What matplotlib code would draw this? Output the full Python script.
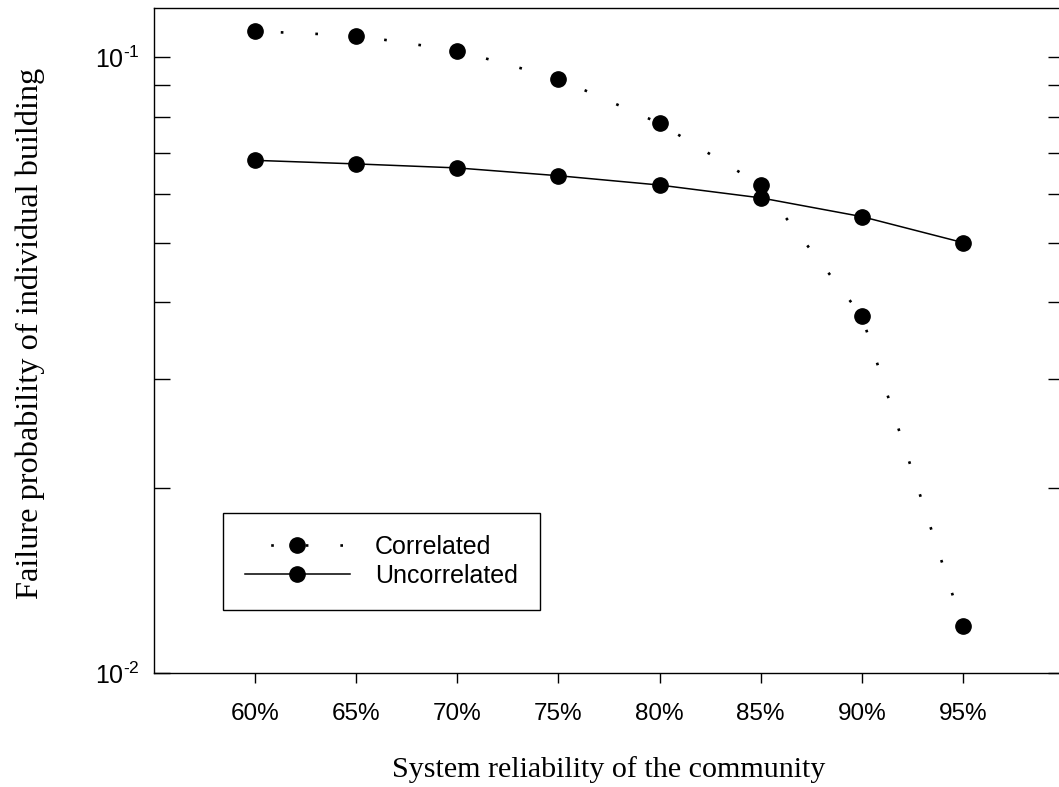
import numpy as np
import matplotlib
matplotlib.use("Agg")
import matplotlib.pyplot as plt
from matplotlib.ticker import FixedLocator, FixedFormatter, NullFormatter

# System reliability levels (%) and failure probability of a single building
reliability = [60, 65, 70, 75, 80, 85, 90, 95]
correlated = [0.1102, 0.1084, 0.1025, 0.0923, 0.0781, 0.0620, 0.0380, 0.0119]
uncorrelated = [0.0680, 0.0671, 0.0661, 0.0642, 0.0620, 0.0591, 0.0551, 0.0500]

xtick_labels = ["60%", "65%", "70%", "75%", "80%", "85%", "90%", "95%"]
ymajor = [0.01, 0.1]
ymajor_labels = [r"$\mathregular{10^{\text{-}2}}$", r"$\mathregular{10^{\text{-}1}}$"]
yminor = [0.02, 0.03, 0.04, 0.05, 0.06, 0.07, 0.08, 0.09]

plt.rcParams["font.family"] = ["Liberation Sans", "DejaVu Sans"]
plt.rcParams["mathtext.fontset"] = "custom"
plt.rcParams["mathtext.rm"] = "Liberation Sans"
plt.rcParams["lines.scale_dashes"] = False

fig = plt.figure(figsize=(10.59, 7.87), dpi=100)
ax = fig.add_axes([154 / 1059, 114 / 787, 910 / 1059, 665 / 787])

ax.plot(reliability, correlated, color="black", lw=1.9,
        linestyle=(6.4, (1.9, 23.0)), marker="o", markersize=11,
        label="Correlated")
ax.plot(reliability, uncorrelated, color="black", lw=1.1,
        marker="o", markersize=11, label="Uncorrelated")

ax.set_yscale("log")
ax.set_xlim(55, 100)
ax.set_ylim(0.01, 0.1202)

ax.xaxis.set_major_locator(FixedLocator(reliability))
ax.xaxis.set_major_formatter(FixedFormatter(xtick_labels))
ax.yaxis.set_major_locator(FixedLocator(ymajor))
ax.yaxis.set_major_formatter(FixedFormatter(ymajor_labels))
ax.yaxis.set_minor_locator(FixedLocator(yminor))
ax.yaxis.set_minor_formatter(NullFormatter())

ax.tick_params(axis="x", which="major", direction="out", length=7.2,
               width=1.0, labelsize=17.5, pad=14.5)
ax.tick_params(axis="y", which="both", direction="in", length=11.5,
               width=1.0, left=True, right=True, labelsize=18, pad=10)

for s in ax.spines.values():
    s.set_linewidth(1.0)

ax.set_xlabel("System reliability of the community",
              family="Liberation Serif", fontsize=21.6)
ax.xaxis.set_label_coords(0.5, -0.1564)
ax.xaxis.label.set_va("baseline")

ax.set_ylabel("Failure probability of individual building",
              family="Liberation Serif", fontsize=23.3)
ax.yaxis.set_label_coords(-0.1275, 0.5105)
ax.yaxis.label.set_va("baseline")
ax.yaxis.label.set_rotation_mode("anchor")

leg = ax.legend(loc="upper left", bbox_to_anchor=(0.0758, 0.241),
                fontsize=18, frameon=True, fancybox=False, framealpha=1,
                edgecolor="black", borderpad=0.88, labelspacing=0.2,
                handlelength=4.2, handletextpad=1.0, borderaxespad=0)
leg.get_frame().set_linewidth(1.0)

fig.savefig("out.png", dpi=100, facecolor="white")
